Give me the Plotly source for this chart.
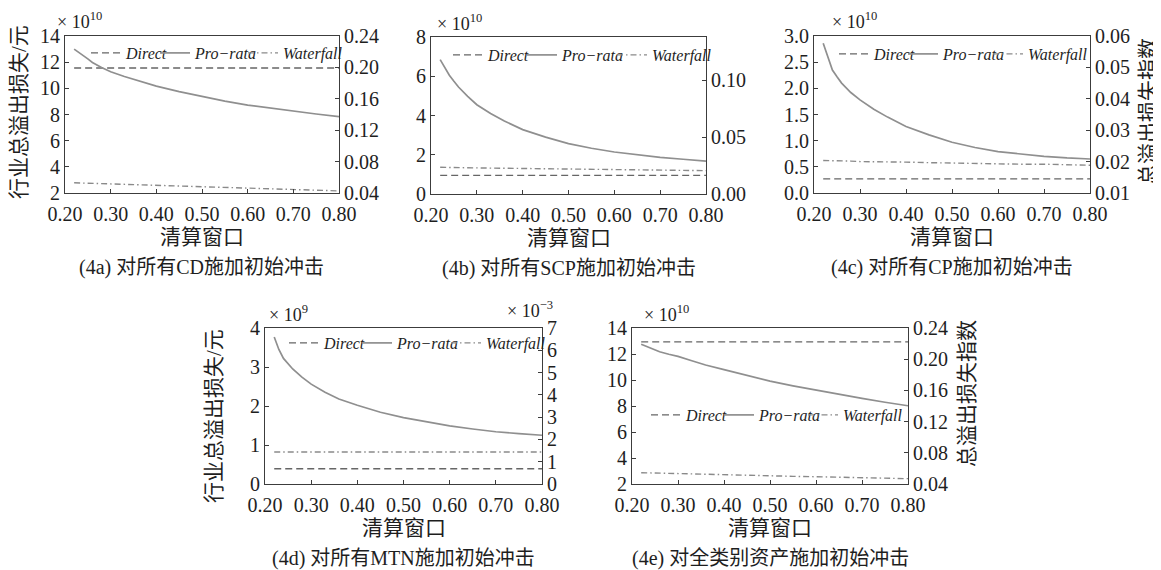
import plotly.graph_objects as go

# page has an 8px body margin; figure is sized to fill the rest of the 1161x570 window
OFF = 8
W, H = 1161 - OFF, 570 - OFF

# ---------------- data ----------------
x_window = [0.22, 0.23, 0.24, 0.25, 0.26, 0.28, 0.30, 0.33, 0.36, 0.40,
            0.45, 0.50, 0.55, 0.60, 0.65, 0.70, 0.75, 0.80]

# (4a) CD shock, unit 1e10 元
a_direct = [11.55] * 18
a_prorata = [13.0, 12.78, 12.5, 12.25, 11.98, 11.6, 11.27, 10.9, 10.6, 10.17,
             9.75, 9.36, 9.02, 8.72, 8.48, 8.26, 8.04, 7.83]
a_waterfall = [2.78, 2.77, 2.76, 2.74, 2.73, 2.71, 2.68, 2.65, 2.61, 2.57,
               2.51, 2.45, 2.40, 2.35, 2.30, 2.25, 2.20, 2.16]

# (4b) SCP shock, unit 1e10 元
b_direct = [0.95] * 18
b_prorata = [6.85, 6.45, 6.05, 5.74, 5.45, 4.98, 4.55, 4.10, 3.72, 3.28,
             2.90, 2.57, 2.33, 2.14, 2.00, 1.87, 1.77, 1.68]
b_waterfall = [1.36, 1.36, 1.35, 1.35, 1.35, 1.34, 1.33, 1.32, 1.31, 1.30,
               1.28, 1.27, 1.25, 1.24, 1.23, 1.22, 1.20, 1.19]

# (4c) CP shock, unit 1e10 元
c_direct = [0.27] * 18
c_prorata = [2.86, 2.60, 2.35, 2.22, 2.10, 1.92, 1.78, 1.60, 1.45, 1.27,
             1.11, 0.97, 0.87, 0.79, 0.74, 0.70, 0.67, 0.65]
c_waterfall = [0.62, 0.62, 0.61, 0.61, 0.61, 0.61, 0.60, 0.60, 0.59, 0.59,
               0.58, 0.57, 0.56, 0.56, 0.55, 0.55, 0.54, 0.53]

# (4d) MTN shock, unit 1e9 元
d_direct = [0.39] * 18
d_prorata = [3.77, 3.45, 3.22, 3.08, 2.95, 2.74, 2.56, 2.35, 2.18, 2.02,
             1.84, 1.70, 1.59, 1.49, 1.41, 1.34, 1.29, 1.25]
d_waterfall = [0.82] * 18

# (4e) all assets shock, unit 1e10 元
e_direct = [12.93] * 18
e_prorata = [12.75, 12.60, 12.45, 12.30, 12.17, 11.98, 11.82, 11.48, 11.15, 10.80,
             10.33, 9.91, 9.55, 9.22, 8.88, 8.58, 8.29, 8.02]
e_waterfall = [2.87, 2.86, 2.85, 2.84, 2.83, 2.82, 2.80, 2.77, 2.74, 2.71,
               2.67, 2.63, 2.59, 2.56, 2.52, 2.48, 2.45, 2.41]

series_names = ["Direct", "Pro\u2212rata", "Waterfall"]
x_ticks = [0.2, 0.3, 0.4, 0.5, 0.6, 0.7, 0.8]
x_ticktext = ["0.20", "0.30", "0.40", "0.50", "0.60", "0.70", "0.80"]

captions = ["(4a) 对所有CD施加初始冲击", "(4b) 对所有SCP施加初始冲击",
            "(4c) 对所有CP施加初始冲击", "(4d) 对所有MTN施加初始冲击",
            "(4e) 对全类别资产施加初始冲击"]
x_title = "清算窗口"
left_title = "行业总溢出损失/元"
right_title = "总溢出损失指数"

left_ticks = [[2, 4, 6, 8, 10, 12, 14], [0, 2, 4, 6, 8],
              [0.0, 0.5, 1.0, 1.5, 2.0, 2.5, 3.0], [0, 1, 2, 3, 4],
              [2, 4, 6, 8, 10, 12, 14]]
left_fmt = ["d", "d", ".1f", "d", "d"]
right_ticks = [[0.04, 0.08, 0.12, 0.16, 0.20, 0.24], [0.0, 0.05, 0.10],
               [0.01, 0.02, 0.03, 0.04, 0.05, 0.06], [0, 1, 2, 3, 4, 5, 6, 7],
               [0.04, 0.08, 0.12, 0.16, 0.20, 0.24]]
right_range = [[0.04, 0.24], [0.0, 0.138], [0.01, 0.06], [0, 7], [0.04, 0.24]]
right_fmt = [".2f", ".2f", ".2f", "d", ".2f"]
exponents = ["10", "10", "10", "9", "10"]

panel_data = [
    (a_direct, a_prorata, a_waterfall),
    (b_direct, b_prorata, b_waterfall),
    (c_direct, c_prorata, c_waterfall),
    (d_direct, d_prorata, d_waterfall),
    (e_direct, e_prorata, e_waterfall),
]

# ---------------- layout geometry (window pixels) ----------------
boxes = [  # x0, x1, y_top, y_bottom
    (65, 339, 36, 193),
    (431, 706, 37, 194),
    (814, 1090, 36, 193),
    (265, 542, 328, 484),
    (632, 908, 328, 484),
]
legend_text_x = [(126, 195, 283), (488, 562, 652), (874, 943, 1028),
                 (324, 397, 486), (686, 759, 843)]
legend_y = [53, 55, 54, 343, 415]
exponent_pos = [(55, 21), (435, 22), (830, 21), (267, 313), (642, 313)]


def px(p):
    return (p - OFF) / W


def py(p):
    return 1 - (p - OFF) / H


SERIF = "Liberation Serif, Times New Roman, Noto Sans CJK SC, serif"
LINE_STYLES = [
    dict(color="#666666", width=1.4, dash="7px,4px"),
    dict(color="#8f8f8f", width=1.7, dash="solid"),
    dict(color="#8a8a8a", width=1.4, dash="6px,3px,1.5px,3px"),
]
AXIS_COLOR = "#3c3c3c"
TEXT_COLOR = "#1e1e1e"
TICK_SIZE = 20

fig = go.Figure()
layout = dict(
    width=W, height=H,
    margin=dict(l=0, r=0, t=0, b=0, pad=0, autoexpand=False),
    paper_bgcolor="white", plot_bgcolor="white",
    font=dict(family=SERIF, size=19, color=TEXT_COLOR),
    showlegend=True,
)
annotations = []

for i in range(5):
    n = i + 1
    xa = "x" if n == 1 else f"x{n}"
    ya = "y" if n == 1 else f"y{n}"
    yr = f"y{n + 5}"
    x0, x1, yt, yb = boxes[i]
    lt = left_ticks[i]

    for s in range(3):
        idx = i * 3 + s + 1
        lg = "legend" if idx == 1 else f"legend{idx}"
        fig.add_trace(go.Scatter(
            x=x_window, y=panel_data[i][s], mode="lines",
            name=series_names[s], line=LINE_STYLES[s],
            xaxis=xa, yaxis=ya, legend=lg, hoverinfo="skip",
        ))
        layout[lg] = dict(
            x=px(legend_text_x[i][s] - 40), y=py(legend_y[i]),
            xanchor="left", yanchor="middle",
            bgcolor="rgba(0,0,0,0)", borderwidth=0,
            font=dict(family=SERIF, size=16, style="italic", color=TEXT_COLOR),
            itemwidth=30,
        )
    # empty trace to activate right axis
    fig.add_trace(go.Scatter(x=[None], y=[None], xaxis=xa, yaxis=yr,
                             showlegend=False, hoverinfo="skip"))

    xkey = "xaxis" if n == 1 else f"xaxis{n}"
    ykey = "yaxis" if n == 1 else f"yaxis{n}"
    layout[xkey] = dict(
        domain=[px(x0), px(x1)], anchor=ya, range=[0.2, 0.8],
        tickvals=x_ticks, ticktext=x_ticktext,
        showline=True, linecolor=AXIS_COLOR, linewidth=1, mirror=True,
        ticks="inside", ticklen=4, tickcolor=AXIS_COLOR,
        showgrid=False, zeroline=False, ticklabelstandoff=3,
        tickfont=dict(family=SERIF, size=TICK_SIZE, color=TEXT_COLOR),
    )
    layout[ykey] = dict(
        domain=[py(yb), py(yt)], anchor=xa,
        range=[lt[0], lt[-1]], tickvals=lt, tickformat=left_fmt[i],
        showline=True, linecolor=AXIS_COLOR, linewidth=1, mirror=False,
        ticks="inside", ticklen=4, tickcolor=AXIS_COLOR,
        showgrid=False, zeroline=False,
        tickfont=dict(family=SERIF, size=TICK_SIZE, color=TEXT_COLOR),
    )
    rt = right_ticks[i]
    layout[f"yaxis{n + 5}"] = dict(
        overlaying=ya, side="right", anchor=xa,
        range=right_range[i], tickvals=rt, tickformat=right_fmt[i],
        showline=True, linecolor=AXIS_COLOR, linewidth=1,
        ticks="inside", ticklen=4, tickcolor=AXIS_COLOR,
        showgrid=False, zeroline=False,
        tickfont=dict(family=SERIF, size=TICK_SIZE, color=TEXT_COLOR),
    )

    cx = (x0 + x1) / 2
    ex, ey = exponent_pos[i]
    # exponent label
    annotations.append(dict(
        text=f"× 10<sup>{exponents[i]}</sup>", x=px(ex), y=py(ey),
        xref="paper", yref="paper", xanchor="left", yanchor="middle",
        showarrow=False, font=dict(family=SERIF, size=18, color=TEXT_COLOR)))
    # x title
    annotations.append(dict(
        text=x_title, x=px(cx), y=py(yb + 44), xref="paper", yref="paper",
        xanchor="center", yanchor="middle", showarrow=False,
        font=dict(family=SERIF, size=21, color=TEXT_COLOR)))
    # caption
    annotations.append(dict(
        text=captions[i], x=px(cx), y=py(yb + 74), xref="paper", yref="paper",
        xanchor="center", yanchor="middle", showarrow=False,
        font=dict(family=SERIF, size=20, color=TEXT_COLOR)))

# extra exponent for right axis of (4d)
annotations.append(dict(
    text="× 10<sup>−3</sup>", x=px(505), y=py(309), xref="paper", yref="paper",
    xanchor="left", yanchor="middle", showarrow=False,
    font=dict(family=SERIF, size=18, color=TEXT_COLOR)))

# y-axis titles
for (tx, ty, txt) in [(19, 112, left_title), (214, 416, left_title),
                      (1148, 112, right_title), (967, 394, right_title)]:
    annotations.append(dict(
        text=txt, x=px(tx), y=py(ty), xref="paper", yref="paper",
        xanchor="center", yanchor="middle", textangle=-90, showarrow=False,
        font=dict(family=SERIF, size=21, color=TEXT_COLOR)))

layout["annotations"] = annotations
fig.update_layout(**layout)
fig.write_html("out.html")
